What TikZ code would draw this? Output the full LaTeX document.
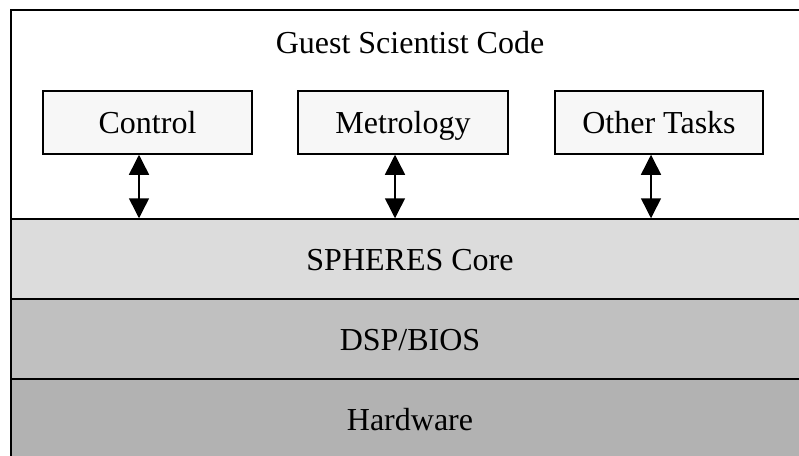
\documentclass[tikz,border=0pt]{standalone}
\usepackage{fontspec}
\setmainfont{Liberation Serif}
\usetikzlibrary{arrows.meta}
\definecolor{corecol}{HTML}{DCDCDC}
\definecolor{dspcol}{HTML}{C0C0C0}
\definecolor{hwcol}{HTML}{B2B2B2}
\definecolor{taskcol}{HTML}{F7F7F7}
\begin{document}
\begin{tikzpicture}[x=1pt,y=-1pt,
  layer/.style={draw=black,line width=1.5pt,minimum width=798pt,minimum height=80pt,inner sep=0pt,text height=24pt,text depth=2pt,font=\fontsize{32}{38}\selectfont},
  taskbox/.style={draw=black,line width=1.5pt,fill=taskcol,minimum height=63pt,inner sep=0pt,text height=24pt,text depth=2pt,font=\fontsize{32}{38}\selectfont},
  biarrow/.style={line width=1.5pt,{Triangle[width=20pt,length=20pt]}-{Triangle[width=20pt,length=20pt]}},
  outer/.style={draw=black,line width=1.5pt},
  title/.style={font=\fontsize{32}{38}\selectfont,inner sep=0pt,text height=24pt,text depth=2pt}]
\useasboundingbox (0,0) rectangle (799,455);
\clip (0,0) rectangle (799,455);
\fill[white] (0,0) rectangle (799,455);
\node[title] (guest) at (410,42) {Guest Scientist Code};
\node[layer,fill=corecol] (core) at (410,259) {SPHERES Core};
\node[layer,fill=dspcol] (dsp) at (410,339) {DSP/BIOS};
\node[layer,fill=hwcol] (hw) at (410,419) {Hardware};
\node[taskbox,minimum width=209pt] (ctrl) at (147.5,122.5) {Control};
\node[taskbox,minimum width=210pt] (metro) at (403,122.5) {Metrology};
\node[taskbox,minimum width=208pt] (other) at (659,122.5) {Other Tasks};
\draw[biarrow] ([xshift=-8.5pt]ctrl.south) -- ([xshift=-8.5pt]ctrl.south |- core.north);
\draw[biarrow] ([xshift=-8pt]metro.south) -- ([xshift=-8pt]metro.south |- core.north);
\draw[biarrow] ([xshift=-8pt]other.south) -- ([xshift=-8pt]other.south |- core.north);
\draw[outer] (11,459) -- (11,10) -- (809,10);
\end{tikzpicture}
\end{document}
